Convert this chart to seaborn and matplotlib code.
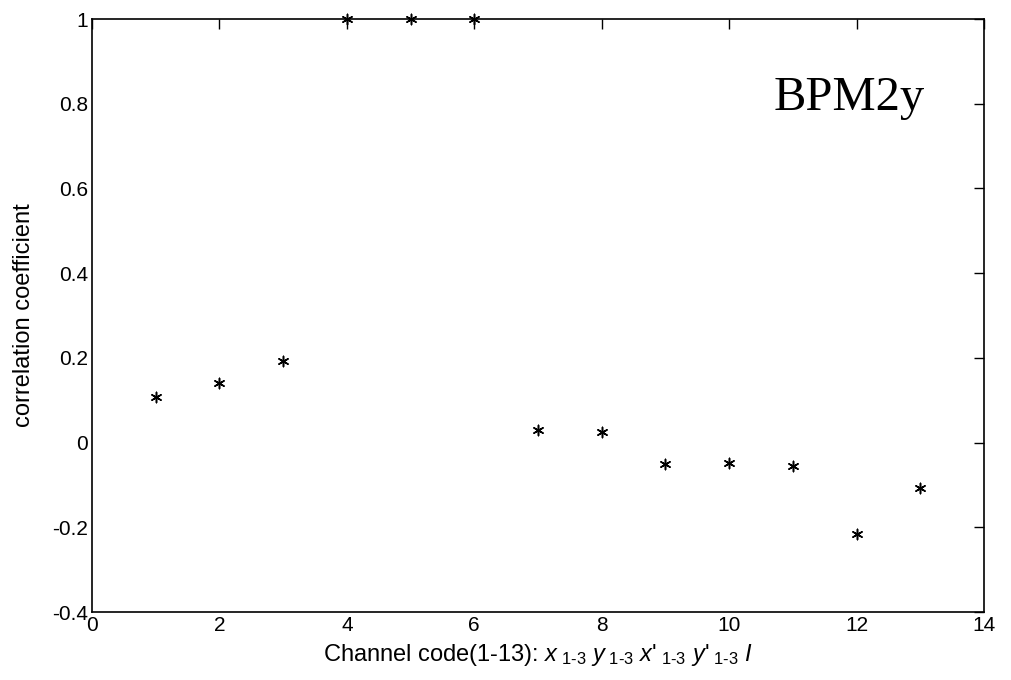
import matplotlib
matplotlib.use("Agg")
import matplotlib.pyplot as plt
import seaborn as sns
import pandas as pd

channels = [1, 2, 3, 4, 5, 6, 7, 8, 9, 10, 11, 12, 13]
corr = [0.108, 0.141, 0.193, 1.0, 1.0, 1.0, 0.030, 0.026, -0.051, -0.049, -0.055, -0.217, -0.108]
xticks = [0, 2, 4, 6, 8, 10, 12, 14]
yticks = [-0.4, -0.2, 0, 0.2, 0.4, 0.6, 0.8, 1]
ytick_labels = ["-0.4", "-0.2", "0", "0.2", "0.4", "0.6", "0.8", "1"]

sns.set_style("white")
plt.rcParams['font.family'] = ['Liberation Sans', 'DejaVu Sans']
plt.rcParams['mathtext.fontset'] = 'custom'
plt.rcParams['mathtext.it'] = 'Liberation Sans:italic'
plt.rcParams['mathtext.rm'] = 'Liberation Sans'
plt.rcParams['text.color'] = 'black'
plt.rcParams['axes.labelcolor'] = 'black'

df = pd.DataFrame({"ch": channels, "r": corr})

fig = plt.figure(figsize=(10.12, 6.8), dpi=100)
ax = fig.add_axes([0.0909, 0.1, 0.8814, 0.872])
sns.scatterplot(data=df, x="ch", y="r", ax=ax, marker=(6, 2, 0), s=55,
                color="black", edgecolor="black", linewidth=1.1, legend=False,
                clip_on=False, zorder=5)

ax.set_xlim(0, 14)
ax.set_ylim(-0.4, 1)
ax.set_xticks(xticks)
ax.set_xticklabels([str(t) for t in xticks])
ax.set_yticks(yticks)
ax.set_yticklabels(ytick_labels)
ax.tick_params(direction="in", length=7, width=1, top=True, right=True,
               labelsize=15, colors="black", labelcolor="black", pad=3)
for s in ax.spines.values():
    s.set_visible(True)
    s.set_color("black")
    s.set_linewidth(1.2)

ax.set_xlabel(r"Channel code(1-13): $x_{\ 1\text{-}3}\ y_{\ 1\text{-}3}\ x\text{'}_{\ 1\text{-}3}\ y\text{'}_{\ 1\text{-}3}\ I$",
              fontsize=17, labelpad=5, color="black")
ax.set_ylabel("correlation coefficient", fontsize=17, labelpad=12, color="black")
ax.text(0.934, 0.867, "BPM2y", transform=ax.transAxes, ha="right", va="center",
        fontsize=35, color="black", family=["Liberation Serif", "DejaVu Serif"])

fig.savefig("out.png", dpi=100)
